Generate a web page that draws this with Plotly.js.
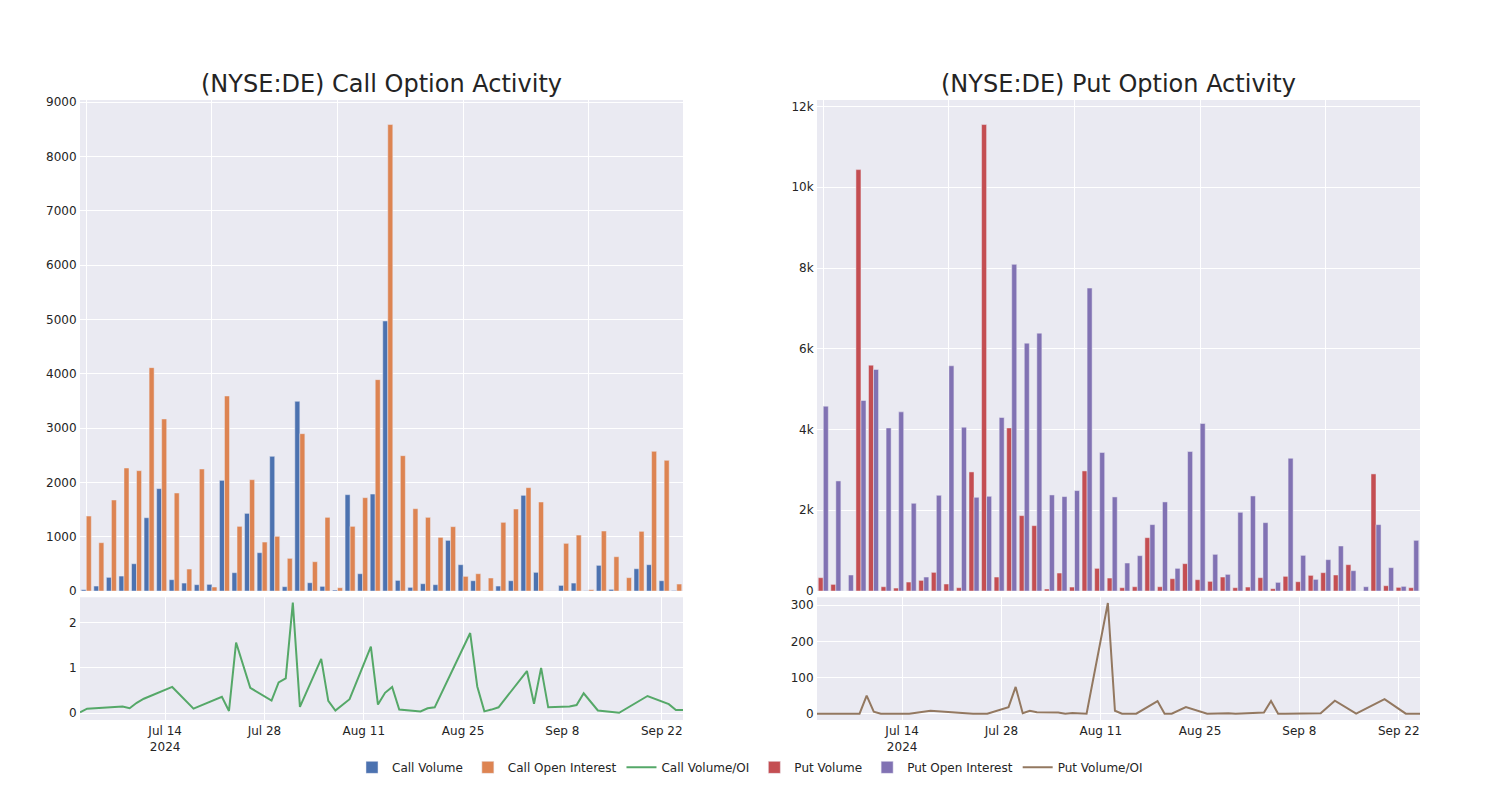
<!DOCTYPE html>
<html>
<head>
<meta charset="utf-8">
<script src="https://cdn.plot.ly/plotly-3.0.1.min.js"></script>
<style>html,body{margin:0;padding:0;background:#fff;}#chart{width:1500px;height:800px;}</style>
</head>
<body>
<div id="chart"></div>
<script>
const dates = ["2024-07-02","2024-07-03","2024-07-08","2024-07-09","2024-07-10","2024-07-11","2024-07-15","2024-07-18","2024-07-22","2024-07-23","2024-07-24","2024-07-26","2024-07-29","2024-07-30","2024-07-31","2024-08-01","2024-08-02","2024-08-05","2024-08-06","2024-08-07","2024-08-09","2024-08-12","2024-08-13","2024-08-14","2024-08-15","2024-08-16","2024-08-19","2024-08-20","2024-08-21","2024-08-23","2024-08-26","2024-08-27","2024-08-28","2024-08-29","2024-08-30","2024-09-03","2024-09-04","2024-09-05","2024-09-06","2024-09-09","2024-09-10","2024-09-11","2024-09-13","2024-09-16","2024-09-20","2024-09-23","2024-09-24","2024-09-25"];

const callVolume = [25,92,252,276,503,1350,1885,209,147,117,123,2038,338,1430,706,2480,80,3493,153,86,18,1774,319,1786,4972,196,68,135,117,933,485,190,5,92,190,1762,344,2,104,147,5,473,31,0,411,485,190,10];
const callOpenInterest = [1381,890,1676,2265,2216,4113,3168,1805,405,2247,74,3591,1191,2050,902,1007,602,2897,540,1357,61,1191,1719,3892,8588,2492,1516,1357,988,1185,270,319,240,1265,1510,1903,1639,2,878,1031,25,1105,632,246,1099,2572,2406,129];
const callVolOI = [0.02,0.10,0.15,0.11,0.23,0.32,0.58,0.10,0.36,0.05,1.56,0.56,0.28,0.68,0.77,2.44,0.14,1.20,0.27,0.06,0.31,1.47,0.19,0.45,0.58,0.08,0.04,0.11,0.13,0.79,1.77,0.59,0.04,0.08,0.13,0.93,0.21,1.00,0.13,0.15,0.18,0.44,0.06,0.01,0.38,0.20,0.07,0.07];

const putVolume = [331,165,0,10438,5595,107,74,223,264,463,174,83,2950,11554,347,4041,1868,1620,50,446,99,2975,562,322,83,107,1322,107,306,678,281,240,347,83,99,331,58,364,231,388,455,397,653,0,2901,132,91,83];
const putOpenInterest = [4579,2727,397,4719,5488,4041,4438,2174,347,2372,5579,4058,2322,2347,4298,8091,6140,6388,2380,2339,2488,7504,3430,2331,694,876,1645,2207,562,3455,4149,909,413,1950,2355,1694,215,3289,884,289,777,1116,504,107,1645,579,116,1256];
const putVolOI = [0,0,0,50,5.6,0,0,8,2.7,1.3,0,0,18,74,1,8,4,3,0,2,0,306,8,0,0,0,35,0,0,18,0,1,2,1,0,3,35,0,0,0.5,0.8,1,36,0,40,0,0,0];

const titles = ["(NYSE:DE) Call Option Activity", "(NYSE:DE) Put Option Activity"];

const C = {
  blue: "rgb(76,114,176)", orange: "rgb(221,132,82)", green: "rgb(85,168,104)",
  red: "rgb(196,78,82)", purple: "rgb(129,114,179)", brown: "rgb(147,120,96)"
};
const barLine = {color: "rgb(234,234,242)", width: 0.5};

const traces = [
  {type: "bar", name: "Call Volume", x: dates, y: callVolume, xaxis: "x", yaxis: "y", marker: {color: C.blue, line: barLine}},
  {type: "bar", name: "Call Open Interest", x: dates, y: callOpenInterest, xaxis: "x", yaxis: "y", marker: {color: C.orange, line: barLine}},
  {type: "scatter", mode: "lines", name: "Call Volume/OI", x: dates, y: callVolOI, xaxis: "x3", yaxis: "y3", line: {color: C.green, width: 2}},
  {type: "bar", name: "Put Volume", x: dates, y: putVolume, xaxis: "x2", yaxis: "y2", marker: {color: C.red, line: barLine}},
  {type: "bar", name: "Put Open Interest", x: dates, y: putOpenInterest, xaxis: "x2", yaxis: "y2", marker: {color: C.purple, line: barLine}},
  {type: "scatter", mode: "lines", name: "Put Volume/OI", x: dates, y: putVolOI, xaxis: "x4", yaxis: "y4", line: {color: C.brown, width: 2}}
];

const axBase = {gridcolor: "white", linecolor: "white", zerolinecolor: "white", showgrid: true, ticks: "", tickfont: {size: 12}};
const catAx = Object.assign({}, axBase, {type: "category", showticklabels: false, tickmode: "linear", tick0: 0, dtick: 10});
const dateAx = Object.assign({}, axBase, {type: "date", range: ["2024-07-02", "2024-09-25"]});

const layout = {
  width: 1500, height: 800,
  font: {family: "DejaVu Sans, sans-serif", color: "rgb(36,36,36)", size: 12},
  paper_bgcolor: "white", plot_bgcolor: "rgb(234,234,242)",
  margin: {l: 80, r: 80, t: 100, b: 80},
  barmode: "group",
  showlegend: true,
  legend: {orientation: "h", x: 0.5, xanchor: "center", y: -0.053, yanchor: "top", font: {size: 12}},
  xaxis: Object.assign({}, catAx, {domain: [0, 0.45], anchor: "y"}),
  yaxis: Object.assign({}, axBase, {domain: [0.208, 1], anchor: "x"}),
  xaxis2: Object.assign({}, catAx, {domain: [0.55, 1], anchor: "y2"}),
  yaxis2: Object.assign({}, axBase, {domain: [0.208, 1], anchor: "x2"}),
  xaxis3: Object.assign({}, dateAx, {domain: [0, 0.45], anchor: "y3"}),
  yaxis3: Object.assign({}, axBase, {domain: [0, 0.198], anchor: "x3", range: [-0.15, 2.56], dtick: 1}),
  xaxis4: Object.assign({}, dateAx, {domain: [0.55, 1], anchor: "y4"}),
  yaxis4: Object.assign({}, axBase, {domain: [0, 0.198], anchor: "x4", range: [-17.5, 322], dtick: 100}),
  annotations: [
    {text: titles[0], x: 0.225, y: 1, xref: "paper", yref: "paper", xanchor: "center", yanchor: "bottom", showarrow: false, font: {size: 24}},
    {text: titles[1], x: 0.775, y: 1, xref: "paper", yref: "paper", xanchor: "center", yanchor: "bottom", showarrow: false, font: {size: 24}}
  ]
};

Plotly.newPlot("chart", traces, layout, {displayModeBar: false, staticPlot: true});
</script>
</body>
</html>
